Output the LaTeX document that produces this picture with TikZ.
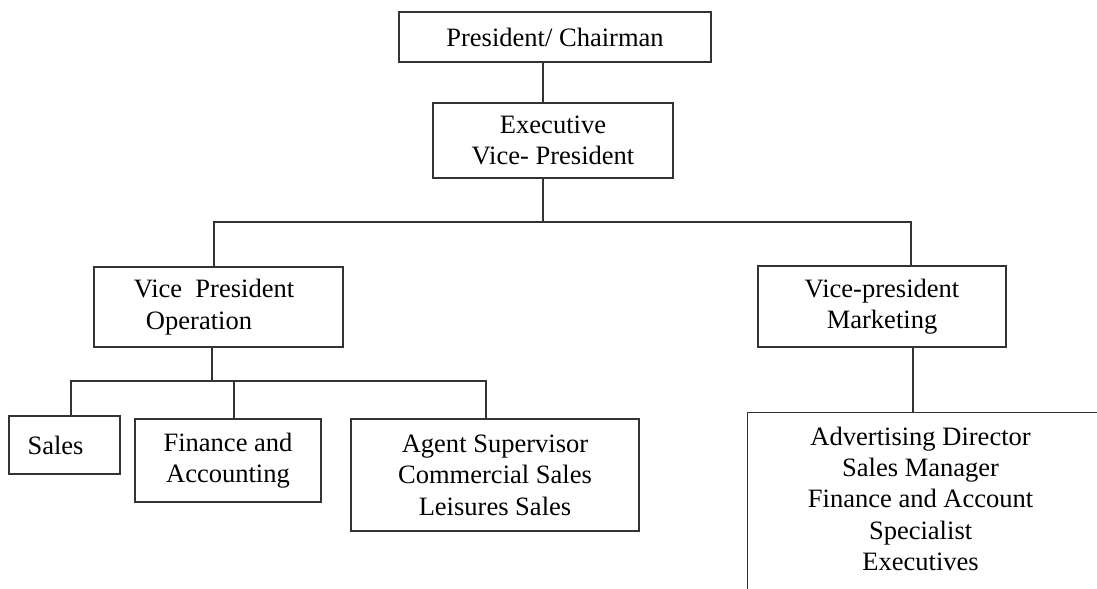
\documentclass[tikz,border=0pt]{standalone}
\usepackage{fontspec}
\setmainfont{Liberation Serif}

\begin{document}
\begin{tikzpicture}[x=0.02cm, y=-0.02cm,
  box/.style={draw=black!80, line width=0.7pt, inner sep=0pt, align=center,
    font=\fontsize{15.1}{17.9}\selectfont},
  link/.style={draw=black!80, line width=0.7pt}]
  \path[use as bounding box, clip] (0,0) rectangle (1097,588);

  \node[box, minimum width=6.24cm, minimum height=1cm] (pres) at (555,37) {President/ Chairman};
  \node[box, minimum width=4.8cm, minimum height=1.5cm] (exec) at (553,140.5) {Executive\\Vice- President};
  \node[box, minimum width=4.98cm, minimum height=1.6cm] (vpop) at (218.5,307) {Vice\ \ President\kern0.18cm\null\\Operation\kern0.78cm\null};
  \node[box, minimum width=4.96cm, minimum height=1.62cm] (vpmk) at (882,306.5) {Vice-president\\Marketing};
  \node[box, minimum width=2.22cm, minimum height=1.16cm] (sales) at (64.5,445) {Sales\hspace{0.36cm}};
  \node[box, minimum width=3.72cm, minimum height=1.66cm] (fin) at (228,460.5) {Finance and\\Accounting};
  \node[box, minimum width=5.76cm, minimum height=2.24cm] (agent) at (495,475) {Agent Supervisor\\Commercial Sales\\Leisures Sales};
  \node[box, minimum width=7.06cm, minimum height=5cm, anchor=north west] (mkt) at (747,412) {};
  \node[box, draw=none, anchor=north] (mktxt) at ([xshift=-0.07cm, yshift=-0.28cm]mkt.north)
    {Advertising Director\\Sales Manager\\Finance and Account\\Specialist\\Executives};

  \coordinate (s1) at (543,222);
  \coordinate (s1l) at (214,222);
  \coordinate (s1r) at (911,222);
  \coordinate (s2) at (212,381);
  \coordinate (s2a) at (71,381);
  \coordinate (s2b) at (234,381);
  \coordinate (s2c) at (486,381);
  \coordinate (s3) at (913,412);

  \draw[link] (pres.south -| s1) -- (exec.north -| s1);
  \draw[link] (exec.south -| s1) -- (s1);
  \draw[link] (vpop.north -| s1l) -- (s1l) -- (s1r) -- (vpmk.north -| s1r);
  \draw[link] (vpop.south -| s2) -- (s2);
  \draw[link] (sales.north -| s2a) -- (s2a) -- (s2c) -- (agent.north -| s2c);
  \draw[link] (fin.north -| s2b) -- (s2b);
  \draw[link] (vpmk.south -| s3) -- (mkt.north -| s3);
\end{tikzpicture}
\end{document}
